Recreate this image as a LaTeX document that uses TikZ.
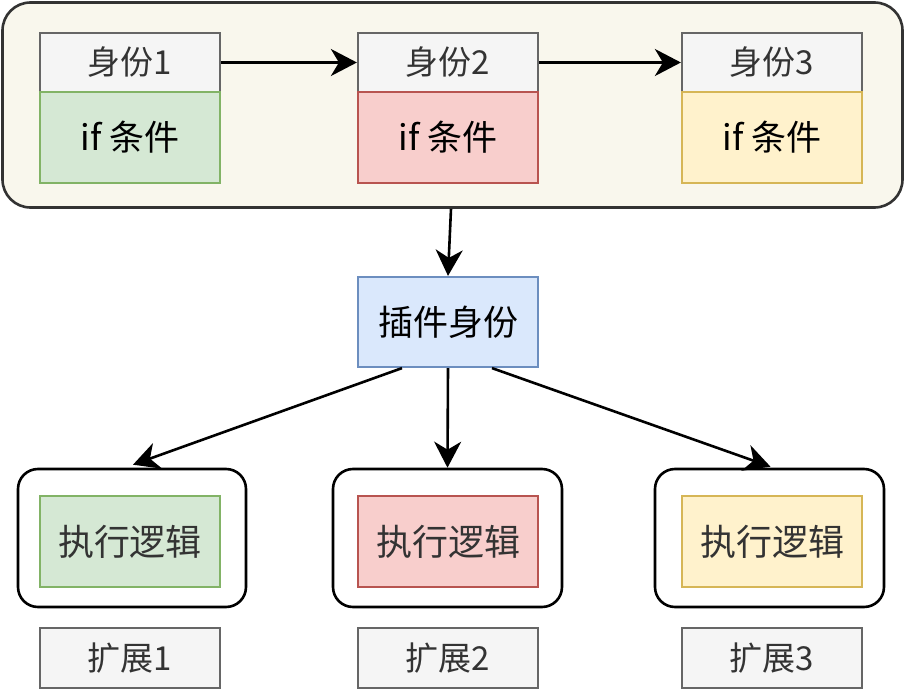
\documentclass[tikz,border=0pt]{standalone}
\usepackage{fontspec}
\setmainfont{Noto Sans CJK SC}
\usetikzlibrary{arrows.meta,positioning,calc}
\definecolor{contfill}{HTML}{F9F7ED}
\definecolor{contline}{HTML}{333333}
\definecolor{greyfill}{HTML}{F5F5F5}
\definecolor{greyline}{HTML}{666666}
\definecolor{greenfill}{HTML}{D5E8D4}
\definecolor{greenline}{HTML}{82B366}
\definecolor{redfill}{HTML}{F8CECC}
\definecolor{redline}{HTML}{B85450}
\definecolor{yellowfill}{HTML}{FFF2CC}
\definecolor{yellowline}{HTML}{D6B656}
\definecolor{bluefill}{HTML}{DAE8FC}
\definecolor{blueline}{HTML}{6C8EBF}
\definecolor{txt}{HTML}{333333}
\tikzset{
  box/.style={rectangle, minimum width=180pt, inner sep=0pt, line width=2.2pt, font=\fontsize{33}{38}\selectfont},
  idbox/.style={box, minimum height=59pt, fill=greyfill, draw=greyline, text=txt},
  condbox/.style={box, minimum height=91pt, font=\fontsize{35}{40}\selectfont},
  logicbox/.style={box, minimum height=91pt, text=txt, font=\fontsize{36}{40}\selectfont},
  extbox/.style={box, minimum height=60pt, fill=greyfill, draw=greyline, text=txt},
  outer/.style={rectangle, rounded corners=20pt, draw=black, fill=white, line width=2.6pt, minimum width=228pt, minimum height=138pt},
  conn/.style={line width=2.6pt, -{Stealth[length=26pt,width=27pt,inset=8pt]}},
}
\begin{document}
\begin{tikzpicture}[x=1pt,y=-1pt]
\useasboundingbox (0,0) rectangle (906,690);
% top container
\node[rectangle, rounded corners=28pt, draw=contline, fill=contfill, line width=2.6pt, minimum width=900pt, minimum height=205pt] (top) at (452.5,105) {};
\node[idbox] (id1) at (130,62.5) {身份1};
\node[condbox, fill=greenfill, draw=greenline] (c1) at (130,137.5) {if 条件};
\node[idbox] (id2) at (448,62.5) {身份2};
\node[condbox, fill=redfill, draw=redline] (c2) at (448,137.5) {if 条件};
\node[idbox] (id3) at (772,62.5) {身份3};
\node[condbox, fill=yellowfill, draw=yellowline] (c3) at (772,137.5) {if 条件};
% plugin
\node[box, minimum height=90pt, fill=bluefill, draw=blueline, font=\fontsize{35}{40}\selectfont] (plug) at (448,322) {插件身份};
% bottom
\node[outer] (o1) at (132,538) {};
\node[outer, minimum width=229pt] (o2) at (447.5,538) {};
\node[outer, minimum width=229pt] (o3) at (769.5,538) {};
\node[logicbox, fill=greenfill, draw=greenline] (l1) at (130,541.5) {执行逻辑};
\node[logicbox, fill=redfill, draw=redline] (l2) at (448,541.5) {执行逻辑};
\node[logicbox, fill=yellowfill, draw=yellowline] (l3) at (772,541.5) {执行逻辑};
\node[extbox] (e1) at (130,658) {扩展1};
\node[extbox] (e2) at (448,658) {扩展2};
\node[extbox] (e3) at (772,658) {扩展3};
% connectors
\draw[conn] (id1.east) -- (id2.west);
\draw[conn] (id2.east) -- (id3.west);
\draw[conn] ($(top.south)+(-1.5,0)$) -- (plug.north);
\draw[conn] ($(plug.south)+(-46,0)$) -- ($(o1.north)+(1,-3)$);
\draw[conn] (plug.south) -- (o2.north);
\draw[conn] ($(plug.south)+(44,0)$) -- ($(o3.north)+(1,-1)$);
\end{tikzpicture}
\end{document}
